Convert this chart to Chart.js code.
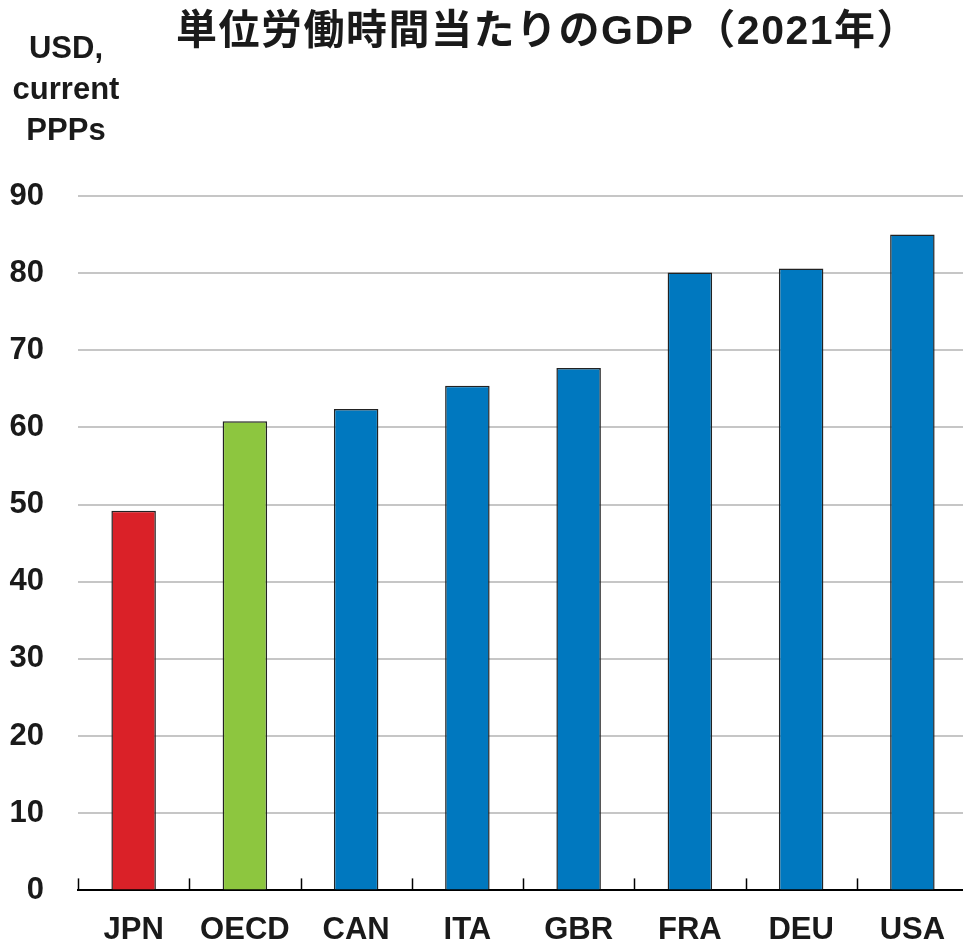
<!DOCTYPE html>
<html>
<head>
<meta charset="utf-8">
<title>単位労働時間当たりのGDP（2021年）</title>
<script src="https://cdn.jsdelivr.net/npm/chart.js@4/dist/chart.umd.min.js"></script>
<style>
	html, body { margin: 0; padding: 0; background: #fff; overflow: hidden; }
	#wrap { width: 968px; height: 943px; }
</style>
</head>
<body>
<div id="wrap"><canvas id="chart" width="968" height="943"></canvas></div>
<script>
// data
var countries = ['JPN', 'OECD', 'CAN', 'ITA', 'GBR', 'FRA', 'DEU', 'USA'];
var gdpPerHour = [49.2, 60.8, 62.4, 65.4, 67.7, 80.1, 80.6, 85.0];
var yTickValues = [0, 10, 20, 30, 40, 50, 60, 70, 80, 90];
var titleText = '単位労働時間当たりのGDP（2021年）';
var unitLines = ['USD,', 'current', 'PPPs'];

var labelFont = "'Liberation Sans Narrow', 'Arial Narrow', 'Liberation Sans', Arial, sans-serif";

// colour per category
var bar_color = function(name) {
	if (name === 'JPN') return '#da2128';
	if (name === 'OECD') return '#8dc63f';
	return '#0078bf';
};

// draws title, unit label and the small upward ticks on the x axis
var decorations = {
	id: 'decorations',
	afterDatasetsDraw: function(chart) {
		var ctx = chart.ctx;
		var x = chart.scales.x;
		var bottom = chart.chartArea.bottom;
		ctx.save();
		ctx.strokeStyle = '#000';
		ctx.lineWidth = 1.5;
		for (var i = 0; i <= countries.length; i++) {
			var px = Math.round(x.getPixelForValue(i - 0.5)) + 0.5;
			ctx.beginPath();
			ctx.moveTo(px, bottom);
			ctx.lineTo(px, bottom - 12);
			ctx.stroke();
		}
		ctx.restore();
	},
	afterDraw: function(chart) {
		var ctx = chart.ctx;
		ctx.save();
		ctx.fillStyle = '#1a1a1a';
		ctx.textBaseline = 'alphabetic';
		ctx.font = "bold 41px 'Liberation Sans', 'Noto Sans CJK JP', sans-serif";
		ctx.textAlign = 'left';
		if ('letterSpacing' in ctx) ctx.letterSpacing = '1.5px';
		ctx.fillText(titleText, 176, 44);
		if ('letterSpacing' in ctx) ctx.letterSpacing = '0px';

		ctx.font = 'bold 31px ' + labelFont;
		ctx.textAlign = 'center';
		for (var i = 0; i < unitLines.length; i++) {
			ctx.fillText(unitLines[i], 66, 58 + i * 41);
		}
		ctx.restore();
	}
};

var chart = new Chart(document.getElementById('chart'), {
	type: 'bar',
	data: {
		labels: countries,
		datasets: [{
			data: gdpPerHour,
			backgroundColor: countries.map(bar_color),
			borderColor: '#222',
			borderWidth: 1.5,
			borderSkipped: 'bottom',
			barPercentage: 0.4,
			categoryPercentage: 1
		}]
	},
	options: {
		responsive: false,
		animation: false,
		layout: { padding: { top: 196, left: 0, right: 0, bottom: 0 } },
		plugins: {
			legend: { display: false },
			title: { display: false },
			tooltip: { enabled: false }
		},
		scales: {
			x: {
				offset: true,
				grid: { display: false },
				border: { display: true, color: '#000', width: 2 },
				ticks: {
					color: '#1a1a1a',
					padding: 13,
					font: { family: labelFont, size: 31, weight: 'bold' }
				},
				afterFit: function(scale) { scale.height = 51; }
			},
			y: {
				min: 0,
				max: 90,
				afterBuildTicks: function(scale) {
					scale.ticks = yTickValues.map(function(v) { return { value: v }; });
				},
				grid: { color: '#c6c6c6', lineWidth: 2, drawTicks: false },
				border: { display: false },
				ticks: {
					color: '#1a1a1a',
					padding: 34,
					font: { family: labelFont, size: 31, weight: 'bold' }
				},
				afterFit: function(scale) { scale.width = 78; }
			}
		}
	},
	plugins: [decorations]
});
</script>
</body>
</html>
